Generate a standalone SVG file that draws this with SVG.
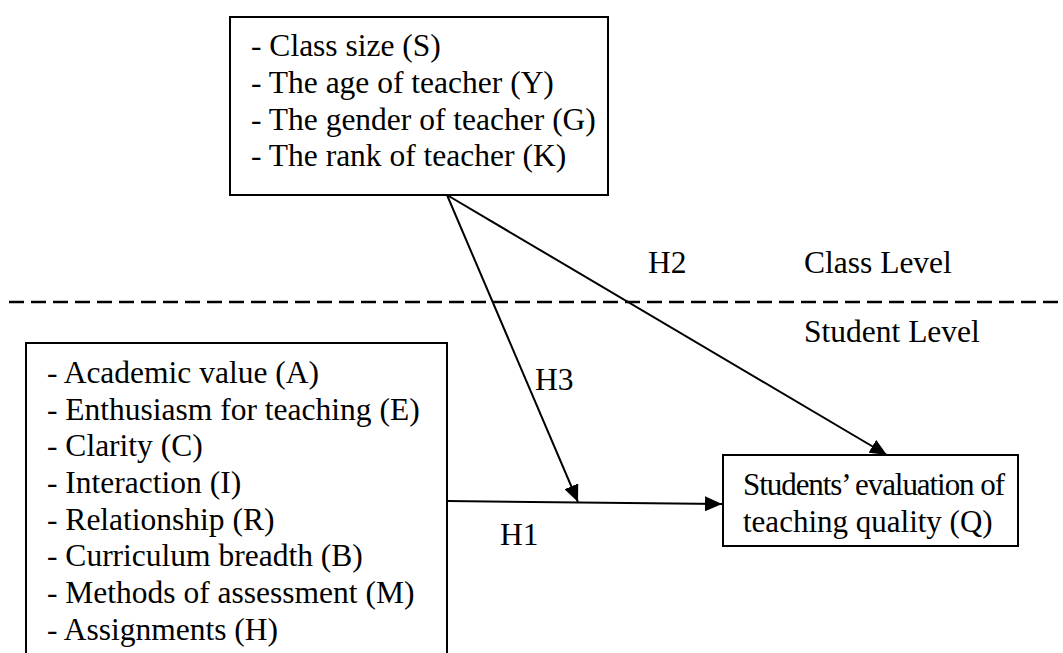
<svg xmlns="http://www.w3.org/2000/svg" width="1063" height="653" viewBox="0 0 1063 653">
<style>
text{font-family:'Liberation Serif','Tinos','DejaVu Serif',serif;font-size:31.5px;fill:#000}
.box{fill:#fff;stroke:#000;stroke-width:2}
.c{stroke:#000;stroke-width:2;fill:none}
.dash{stroke:#000;stroke-width:2.5;stroke-dasharray:15 7;fill:none}
</style>
<defs>
<marker id="arr" markerWidth="17" markerHeight="15" refX="17" refY="7.5" orient="auto" markerUnits="userSpaceOnUse">
<path d="M0,0 L17,7.5 L0,15 Z" fill="#000"/>
</marker>
</defs>
<rect width="1063" height="653" fill="#fff"/>
<g id="class-factors">
<rect class="box" x="230" y="17" width="378" height="178"/>
<text x="251" y="56">- Class size (S)</text>
<text x="251" y="93">- The age of teacher (Y)</text>
<text x="251" y="130">- The gender of teacher (G)</text>
<text x="251" y="166">- The rank of teacher (K)</text>
</g>
<g id="student-factors">
<path class="box" d="M26,660 L26,343 L447,343 L447,660"/>
<text x="47" y="383">- Academic value (A)</text>
<text x="47" y="420">- Enthusiasm for teaching (E)</text>
<text x="47" y="456">- Clarity (C)</text>
<text x="47" y="493">- Interaction (I)</text>
<text x="47" y="530">- Relationship (R)</text>
<text x="47" y="566">- Curriculum breadth (B)</text>
<text x="47" y="603">- Methods of assessment (M)</text>
<text x="47" y="640">- Assignments (H)</text>
</g>
<g id="outcome">
<rect class="box" x="723" y="455" width="295" height="91"/>
<text x="743" y="495" style="font-size:31px" textLength="262" lengthAdjust="spacing">Students’ evaluation of</text>
<text x="743" y="532" style="font-size:31px">teaching quality (Q)</text>
</g>
<g id="levels">
<line class="dash" x1="9" y1="302" x2="1063" y2="302"/>
<text x="804" y="273">Class Level</text>
<text x="804" y="342">Student Level</text>
</g>
<g id="connectors">
<line class="c" x1="447" y1="195" x2="578" y2="502" marker-end="url(#arr)"/>
<line class="c" x1="447" y1="195" x2="887" y2="455" marker-end="url(#arr)"/>
<line class="c" x1="447" y1="501" x2="722" y2="504" marker-end="url(#arr)"/>
<text x="648" y="273">H2</text>
<text x="535" y="390">H3</text>
<text x="500" y="545">H1</text>
</g>
</svg>
